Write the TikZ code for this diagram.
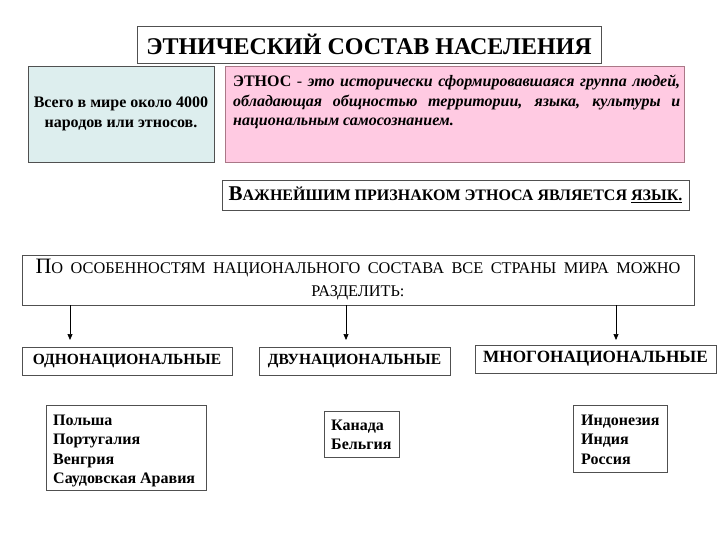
\documentclass[tikz,border=0pt]{standalone}
\usepackage{fontspec}
\setmainfont{Liberation Serif}
\usetikzlibrary{arrows.meta}
\definecolor{bluefill}{RGB}{221,238,238}
\definecolor{pinkfill}{RGB}{255,202,226}
\definecolor{pinkdraw}{RGB}{170,120,135}
\definecolor{boxdraw}{RGB}{80,80,80}
\tikzset{
  box/.style={draw=boxdraw, line width=0.9pt, inner sep=0pt},
  arr/.style={draw=black, line width=0.7pt, -{Triangle[length=6pt,width=5pt]}},
  lst/.style={font=\fontsize{16}{19.3}\selectfont\bfseries, align=left, anchor=north west, inner sep=0pt},
  cat/.style={box, minimum height=28pt}
}
\begin{document}
\begin{tikzpicture}[x=1pt,y=-1pt]
\useasboundingbox[fill=white] (0,0) rectangle (720,540);
% title
\node[box, minimum width=464pt, minimum height=37pt, font=\fontsize{24}{26}\selectfont\bfseries]
  (title) at (369,44.5) {ЭТНИЧЕСКИЙ СОСТАВ НАСЕЛЕНИЯ};
% left blue
\node[box, fill=bluefill, minimum width=186pt, minimum height=96pt, align=center,
  font=\fontsize{16}{20}\selectfont\bfseries]
  (world) at (121,114) {Всего в мире около 4000\\народов или этносов.};
% pink
\node[box, draw=pinkdraw, fill=pinkfill, minimum width=459pt, minimum height=96pt]
  (pink) at (454.5,114) {};
\node[anchor=north west, inner sep=0pt, text width=447pt, align=justify,
  font=\fontsize{16}{19.5}\selectfont]
  (pinktext) at (233,75) {\textbf{ЭТНОС} - \textbf{\itshape это исторически сформировавшаяся группа людей,\linebreak обладающая общностью территории, языка, культуры и\linebreak национальным самосознанием.}};
% important
\node[box, minimum width=467pt, minimum height=30pt, font=\bfseries]
  (lang) at (455.5,195) {{\fontsize{21}{22}\selectfont В}{\fontsize{16}{20}\selectfont АЖНЕЙШИМ ПРИЗНАКОМ ЭТНОСА ЯВЛЯЕТСЯ \underline{ЯЗЫК.}}};
% big
\node[box, minimum width=672pt, minimum height=50pt, align=center,
  font=\fontsize{16.3}{23}\selectfont]
  (big) at (358,280) {\makebox[645pt][s]{{\fontsize{22}{23}\selectfont П}О ОСОБЕННОСТЯМ НАЦИОНАЛЬНОГО СОСТАВА ВСЕ СТРАНЫ МИРА МОЖНО}\\РАЗДЕЛИТЬ:};
% categories
\node[cat, minimum width=210pt, font=\fontsize{15.5}{18}\selectfont\bfseries]
  (odno) at (127,361) {ОДНОНАЦИОНАЛЬНЫЕ};
\node[cat, minimum width=191pt, font=\fontsize{15.5}{18}\selectfont\bfseries]
  (dvu) at (354.5,361) {ДВУНАЦИОНАЛЬНЫЕ};
\node[cat, minimum width=241pt, font=\fontsize{17.2}{18}\selectfont\bfseries]
  (mnogo) at (595.5,359) {МНОГОНАЦИОНАЛЬНЫЕ};
% arrows
\coordinate (e1) at (70,340);
\coordinate (e2) at (346,340);
\coordinate (e3) at (616,340);
\draw[arr] (e1 |- big.south) -- (e1);
\draw[arr] (e2 |- big.south) -- (e2);
\draw[arr] (e3 |- big.south) -- (e3);
% country lists
\node[box, minimum width=160pt, minimum height=85pt] (c1) at (126,447.5) {};
\node[lst] (c1t) at (53,415) {Польша\\Португалия\\Венгрия\\Саудовская Аравия};
\node[box, minimum width=75pt, minimum height=46pt] (c2) at (361.5,434.5) {};
\node[lst] (c2t) at (331,420) {Канада\\Бельгия};
\node[box, minimum width=94pt, minimum height=67pt] (c3) at (620,438.5) {};
\node[lst] (c3t) at (581,415) {Индонезия\\Индия\\Россия};
\end{tikzpicture}
\end{document}
